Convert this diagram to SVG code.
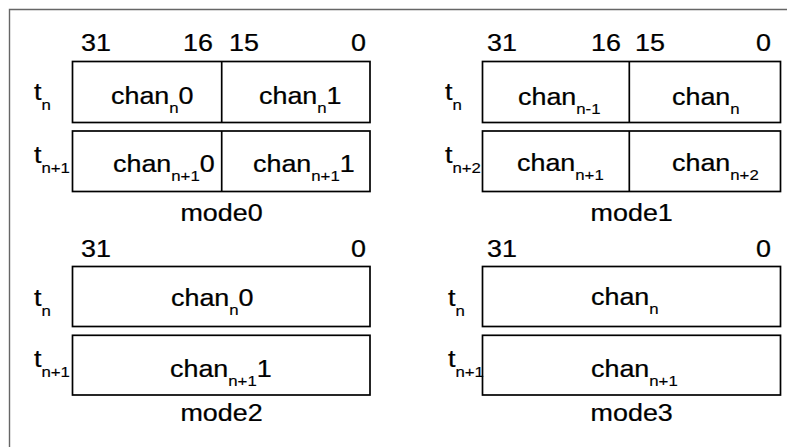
<svg xmlns="http://www.w3.org/2000/svg" width="787" height="447" viewBox="0 0 787 447">
<style>
text{font-family:"Liberation Sans",Arial,sans-serif;font-size:24px;fill:#000;stroke:#000;stroke-width:0.25}
.s{font-size:15px;stroke-width:0.15}
.e{text-anchor:end}
.m{text-anchor:middle}
.box{fill:#fff;stroke:#000;stroke-width:1.7}
.div{stroke:#000;stroke-width:1.7}
</style>
<rect width="787" height="447" fill="#fff"/>
<path d="M9.5,447 V9.5 H787" fill="none" stroke="#666" stroke-width="1.4"/>

<g id="mode0">
  <text transform="translate(81,51) scale(1.12,1)">31</text>
  <text class="e" transform="translate(213,51) scale(1.12,1)">16</text>
  <text transform="translate(229,51) scale(1.12,1)">15</text>
  <text class="e" transform="translate(366,51) scale(1.12,1)">0</text>
  <rect class="box" x="72.5" y="61.5" width="297.5" height="61"/>
  <line class="div" x1="221.7" y1="61.5" x2="221.7" y2="122.5"/>
  <rect class="box" x="72.5" y="131" width="297.5" height="60.5"/>
  <line class="div" x1="221.7" y1="131" x2="221.7" y2="191.5"/>
  <text transform="translate(34,100) scale(1.12,1)">t<tspan class="s" dy="10">n</tspan></text>
  <text transform="translate(34,163) scale(1.12,1)">t<tspan class="s" dy="10">n+1</tspan></text>
  <text transform="translate(111,104) scale(1.12,1)">chan<tspan class="s" dy="9">n</tspan><tspan dy="-9">0</tspan></text>
  <text transform="translate(259,104) scale(1.12,1)">chan<tspan class="s" dy="9">n</tspan><tspan dy="-9">1</tspan></text>
  <text transform="translate(113,172) scale(1.12,1)">chan<tspan class="s" dy="9">n+1</tspan><tspan dy="-9">0</tspan></text>
  <text transform="translate(253,172) scale(1.12,1)">chan<tspan class="s" dy="9">n+1</tspan><tspan dy="-9">1</tspan></text>
  <text class="m" transform="translate(221.5,221) scale(1.12,1)">mode0</text>
</g>

<g id="mode1">
  <text transform="translate(487,51) scale(1.12,1)">31</text>
  <text class="e" transform="translate(621,51) scale(1.12,1)">16</text>
  <text transform="translate(635,51) scale(1.12,1)">15</text>
  <text class="e" transform="translate(771,51) scale(1.12,1)">0</text>
  <rect class="box" x="482.5" y="61.5" width="298" height="61"/>
  <line class="div" x1="629.3" y1="61.5" x2="629.3" y2="122.5"/>
  <rect class="box" x="482.5" y="131" width="298" height="60.5"/>
  <line class="div" x1="629.3" y1="131" x2="629.3" y2="191.5"/>
  <text transform="translate(445,100) scale(1.12,1)">t<tspan class="s" dy="10">n</tspan></text>
  <text transform="translate(445,163) scale(1.12,1)">t<tspan class="s" dy="10">n+2</tspan></text>
  <text transform="translate(518,105) scale(1.12,1)">chan<tspan class="s" dy="9">n-1</tspan></text>
  <text transform="translate(672,105) scale(1.12,1)">chan<tspan class="s" dy="9">n</tspan></text>
  <text transform="translate(517,171) scale(1.12,1)">chan<tspan class="s" dy="9">n+1</tspan></text>
  <text transform="translate(672,171) scale(1.12,1)">chan<tspan class="s" dy="9">n+2</tspan></text>
  <text class="m" transform="translate(631.7,221) scale(1.12,1)">mode1</text>
</g>

<g id="mode2">
  <text transform="translate(81,257) scale(1.12,1)">31</text>
  <text class="e" transform="translate(366,257) scale(1.12,1)">0</text>
  <rect class="box" x="72.5" y="266.5" width="297.5" height="60"/>
  <rect class="box" x="72.5" y="335.3" width="297.5" height="59.7"/>
  <text transform="translate(34,306) scale(1.12,1)">t<tspan class="s" dy="10">n</tspan></text>
  <text transform="translate(34,367) scale(1.12,1)">t<tspan class="s" dy="10">n+1</tspan></text>
  <text transform="translate(171,306) scale(1.12,1)">chan<tspan class="s" dy="9">n</tspan><tspan dy="-9">0</tspan></text>
  <text transform="translate(170,377) scale(1.12,1)">chan<tspan class="s" dy="9">n+1</tspan><tspan dy="-9">1</tspan></text>
  <text class="m" transform="translate(221.5,421) scale(1.12,1)">mode2</text>
</g>

<g id="mode3">
  <text transform="translate(487,257) scale(1.12,1)">31</text>
  <text class="e" transform="translate(771,257) scale(1.12,1)">0</text>
  <rect class="box" x="482.5" y="266.5" width="298" height="60"/>
  <rect class="box" x="482.5" y="335.3" width="298" height="59.7"/>
  <text transform="translate(448,306) scale(1.12,1)">t<tspan class="s" dy="10">n</tspan></text>
  <text transform="translate(448,367) scale(1.12,1)">t<tspan class="s" dy="10">n+1</tspan></text>
  <text transform="translate(591,305) scale(1.12,1)">chan<tspan class="s" dy="9">n</tspan></text>
  <text transform="translate(591,377) scale(1.12,1)">chan<tspan class="s" dy="9">n+1</tspan></text>
  <text class="m" transform="translate(631.7,421) scale(1.12,1)">mode3</text>
</g>
</svg>
